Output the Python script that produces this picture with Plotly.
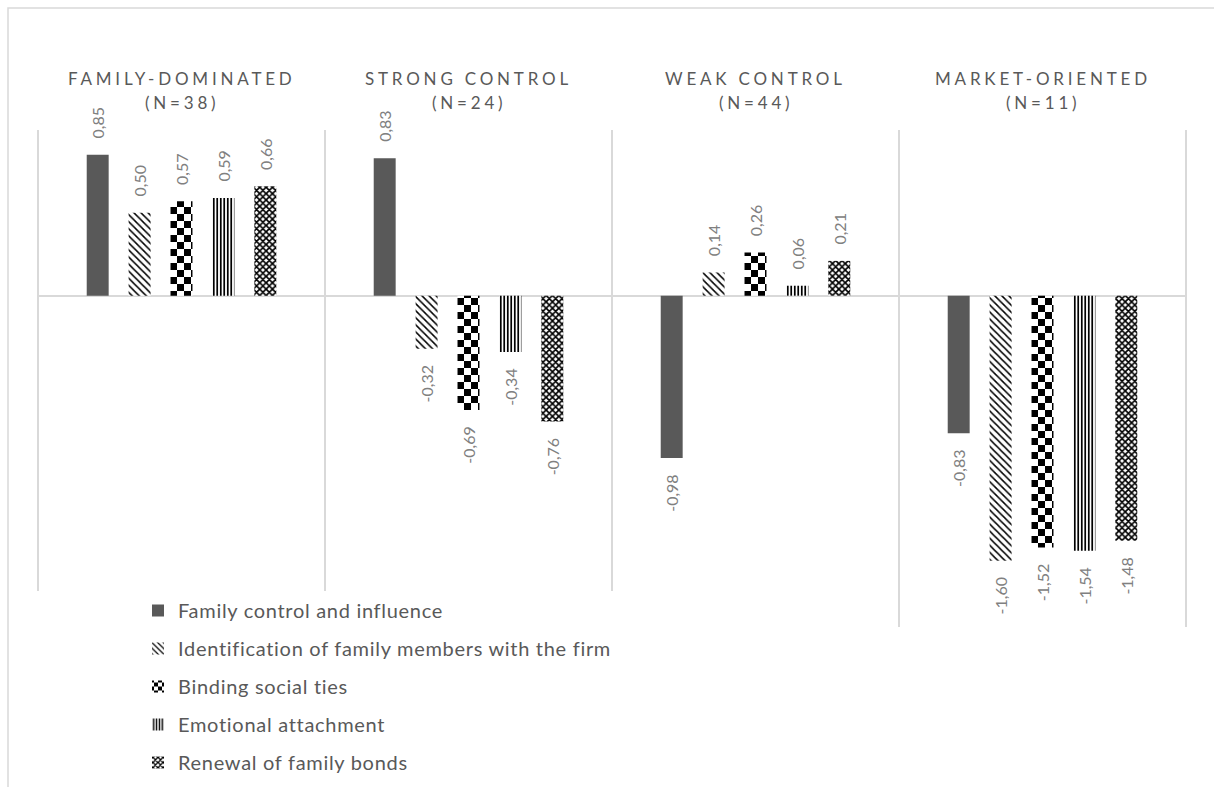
import plotly.graph_objects as go

# Cluster profiles: mean standardised scores of the five dimensions
clusters = ["FAMILY-DOMINATED", "STRONG CONTROL", "WEAK CONTROL", "MARKET-ORIENTED"]
cluster_n = [38, 24, 44, 11]

family_control = [0.85, 0.83, -0.98, -0.83]
identification = [0.50, -0.32, 0.14, -1.60]
binding_ties = [0.57, -0.69, 0.26, -1.52]
emotional = [0.59, -0.34, 0.06, -1.54]
renewal = [0.66, -0.76, 0.21, -1.48]

series_names = [
    "Family control and influence",
    "Identification of family members with the firm",
    "Binding social ties",
    "Emotional attachment",
    "Renewal of family bonds",
]
series_values = [family_control, identification, binding_ties, emotional, renewal]

# fill styles per dimension (the dotted fill is turned into a checkerboard below)
styles = [
    dict(color="#595959", pattern=None),
    dict(color="white", pattern=dict(shape="\\", size=5, solidity=0.3)),
    dict(color="white", pattern=dict(shape=".", size=14, solidity=0.5)),
    dict(color="white", pattern=dict(shape="|", size=3.5, solidity=0.5)),
    dict(color="white", pattern=dict(shape="x", size=4.5, solidity=0.6)),
]

W, H = 1214, 787
L, R, T, B = 37, 27, 130, 160
Y_MIN, Y_MAX = -2, 1
GREY_LINE = "#d9d9d9"
TEXT_GREY = "#595959"
LABEL_GREY = "#808080"
FONT = "Lato"
LEGEND_TOP_PX = 591

pw, ph = W - L - R, H - T - B


def px_to_y(py):
    return Y_MAX - (py - T) / ph * (Y_MAX - Y_MIN)


PAD = "\u2002\u2004"


def label_templates(vals):
    # keep value labels a little away from the bar end
    return [PAD + "%{y:.2f}" if v >= 0 else "%{y:.2f}" + PAD for v in vals]


fig = go.Figure()
for name, vals, st in zip(series_names, series_values, styles):
    marker = dict(color=st["color"], line=dict(width=0))
    if st["pattern"] is not None:
        marker["pattern"] = dict(fgcolor="#000000", bgcolor="#ffffff", fgopacity=1,
                                 fillmode="replace", **st["pattern"])
    fig.add_trace(go.Bar(
        name=f"<span style='letter-spacing:0.7px'>{name}</span>",
        x=clusters,
        y=vals,
        marker=marker,
        texttemplate=label_templates(vals),
        textposition="outside",
        textangle=-90,
        constraintext="none",
        cliponaxis=False,
        textfont=dict(family=FONT, size=16, color=LABEL_GREY),
        legendgroup=name,
        hoverinfo="skip",
    ))

# vertical separators between the cluster panels; the legend sits over the
# lower part of the first three
legend_top = px_to_y(LEGEND_TOP_PX)
for i in range(len(clusters) + 1):
    y_low = legend_top if i < 3 else Y_MIN
    fig.add_shape(type="line", xref="x", yref="y", x0=i - 0.5, x1=i - 0.5,
                  y0=y_low, y1=Y_MAX, line=dict(color=GREY_LINE, width=2), layer="below")

# outer chart frame
fig.add_shape(type="rect", xref="paper", yref="paper",
              x0=(8 - L) / pw, x1=(W + 20 - L) / pw,
              y0=-(H + 20 - T - ph) / ph, y1=(H - B - 8) / ph,
              line=dict(color=GREY_LINE, width=1.5), fillcolor="rgba(0,0,0,0)")

# panel headings
for c, n in zip(clusters, cluster_n):
    fig.add_annotation(x=c, xref="x", y=1, yref="paper", yanchor="middle",
                       yshift=52, showarrow=False,
                       text=f"<span style='letter-spacing:3.8px'>{c}</span>",
                       font=dict(family=FONT, size=17, color=TEXT_GREY))
    fig.add_annotation(x=c, xref="x", y=1, yref="paper", yanchor="middle",
                       yshift=28, showarrow=False,
                       text=f"<span style='letter-spacing:3.8px'>(N={n})</span>",
                       font=dict(family=FONT, size=17, color=TEXT_GREY))

fig.update_layout(
    width=W, height=H, autosize=False,
    margin=dict(l=L, r=R, t=T, b=B, autoexpand=False),
    paper_bgcolor="white", plot_bgcolor="white",
    separators=", ",
    barmode="group", bargap=0.27, bargroupgap=0.476,
    showlegend=True,
    legend=dict(x=(138 - L) / pw, xanchor="left", y=(H - B - LEGEND_TOP_PX) / ph,
                yanchor="top", bgcolor="white", borderwidth=0, tracegroupgap=9,
                font=dict(family=FONT, size=20, color=TEXT_GREY)),
    xaxis=dict(type="category", showticklabels=False, showgrid=False,
               showline=False, ticks="", zeroline=False),
    yaxis=dict(range=[Y_MIN, Y_MAX], showticklabels=False, showgrid=False, ticks="",
               showline=False, zeroline=True, zerolinecolor=GREY_LINE, zerolinewidth=2),
)

# swap the dot tile of the "Binding social ties" fill for a checkerboard tile
checker_js = """
var gd = document.getElementById('{plot_id}');
var NS = 'http://www.w3.org/2000/svg';
gd.querySelectorAll('pattern').forEach(function(p) {
    var dot = p.querySelector('circle');
    if (!dot) { return; }
    var s = parseFloat(p.getAttribute('width'));
    var h = s / 2;
    [[0, 0], [h, h]].forEach(function(o) {
        var r = document.createElementNS(NS, 'rect');
        r.setAttribute('x', o[0]);
        r.setAttribute('y', o[1]);
        r.setAttribute('width', h);
        r.setAttribute('height', h);
        r.setAttribute('fill', '#000000');
        p.appendChild(r);
    });
    dot.remove();
});
"""

fig.write_html("out.html", post_script=checker_js)
